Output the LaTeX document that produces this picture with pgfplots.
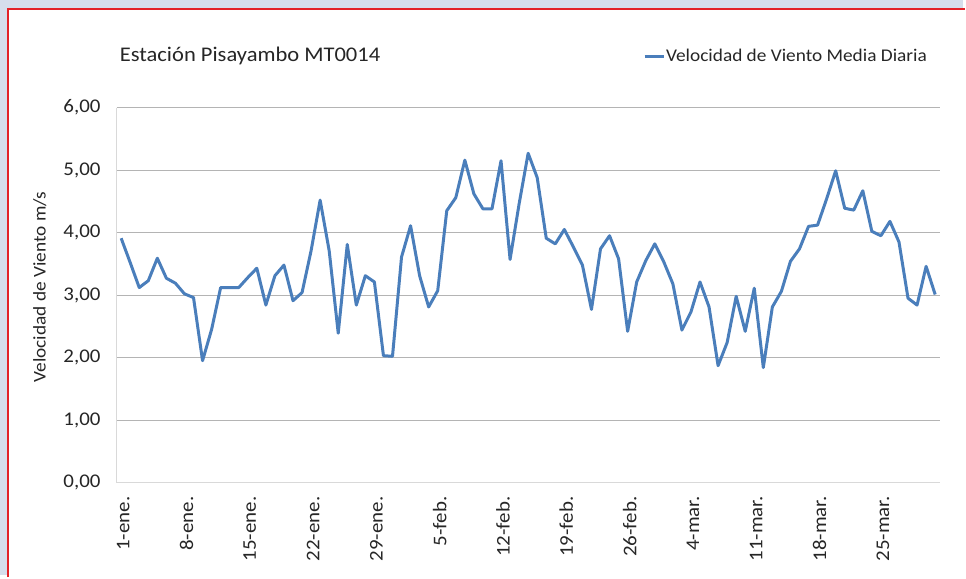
\documentclass[border=0pt]{standalone}
\usepackage{fontspec}
\setmainfont{Carlito}[FakeStretch=1.08]
\usepackage{pgfplots}
\usepackage{pgfplotstable}
\pgfplotsset{compat=1.18}

\definecolor{serie}{HTML}{4A7EBB}
\definecolor{fondo}{HTML}{D6DEEC}
\definecolor{borde}{HTML}{E32228}
\definecolor{rejilla}{HTML}{B4B4B4}
\definecolor{eje}{HTML}{D9D9D9}
\definecolor{texto}{HTML}{262626}

% dia 1 = 1-ene., dia 91 = 31-mar. (ano bisiesto)
\pgfplotstableread{
dia v
1 3.91
2 3.52
3 3.12
4 3.23
5 3.59
6 3.27
7 3.19
8 3.02
9 2.96
10 1.95
11 2.45
12 3.12
13 3.12
14 3.12
15 3.28
16 3.43
17 2.84
18 3.31
19 3.48
20 2.91
21 3.04
22 3.71
23 4.52
24 3.71
25 2.39
26 3.81
27 2.84
28 3.31
29 3.21
30 2.03
31 2.02
32 3.61
33 4.11
34 3.31
35 2.81
36 3.07
37 4.35
38 4.56
39 5.16
40 4.62
41 4.38
42 4.38
43 5.15
44 3.57
45 4.46
46 5.27
47 4.88
48 3.91
49 3.82
50 4.05
51 3.77
52 3.48
53 2.77
54 3.74
55 3.95
56 3.58
57 2.42
58 3.21
59 3.55
60 3.82
61 3.53
62 3.18
63 2.44
64 2.73
65 3.21
66 2.81
67 1.87
68 2.24
69 2.98
70 2.42
71 3.11
72 1.84
73 2.81
74 3.06
75 3.54
76 3.74
77 4.10
78 4.12
79 4.54
80 4.99
81 4.39
82 4.36
83 4.67
84 4.02
85 3.95
86 4.18
87 3.85
88 2.95
89 2.84
90 3.46
91 3.01
}\viento

\begin{document}
\begin{tikzpicture}
\fill[fondo] (0,0) rectangle (966bp,577bp);
\fill[white] (8bp,0) rectangle (966bp,568bp);
\draw[borde, line width=2bp] (8bp,-2bp) -- (8bp,568bp) -- (968bp,568bp);
\useasboundingbox (0,0) rectangle (966bp,577bp);

\node[anchor=base west, font=\fontsize{21}{24}\selectfont, text=texto, inner sep=0pt]
  at (120bp,515bp) {Estación Pisayambo MT0014};
\node[rotate=90, font=\fontsize{18}{21}\selectfont, text=texto, inner sep=0pt]
  at (40bp,289bp) {Velocidad de Viento m/s};

\begin{axis}[
  scale only axis,
  width=825.6bp, height=376bp,
  at={(117bp,93bp)}, anchor=south west,
  xmin=0.5, xmax=91.5,
  ymin=0, ymax=6,
  ytick={0,1,...,6},
  xtick={1,8,...,85},
  xticklabels={1-ene.,8-ene.,15-ene.,22-ene.,29-ene.,5-feb.,12-feb.,19-feb.,26-feb.,4-mar.,11-mar.,18-mar.,25-mar.},
  axis x line*=bottom, axis y line*=left,
  axis line style={-, eje, line width=1bp},
  major tick length=0pt,
  ymajorgrids, grid style={rejilla, line width=0.9bp},
  /pgf/number format/.cd, fixed, fixed zerofill, precision=2, use comma, assume math mode=true,
  /pgfplots/.cd,
  yticklabel style={font=\fontsize{19.5}{22}\selectfont, text=texto, inner sep=0pt, anchor=east, xshift=-16bp},
  xticklabel style={font=\fontsize{19.5}{22}\selectfont, text=texto, inner sep=0pt, xshift=2bp, yshift=-14bp, rotate=90, anchor=east},
  legend style={at={(0.986,1.137)}, anchor=east, draw=none, fill=none,
    font=\fontsize{18}{21}\selectfont, text=texto, inner sep=0pt,
    nodes={inner xsep=1bp}, legend cell align=left},
  legend image code/.code={\draw[serie, line width=3bp] (0bp,0bp) -- (19bp,0bp);},
]
\addplot[serie, line width=3bp, line join=round] table[x=dia, y=v] {\viento};
\addlegendentry{Velocidad de Viento Media Diaria}
\end{axis}
\end{tikzpicture}
\end{document}
